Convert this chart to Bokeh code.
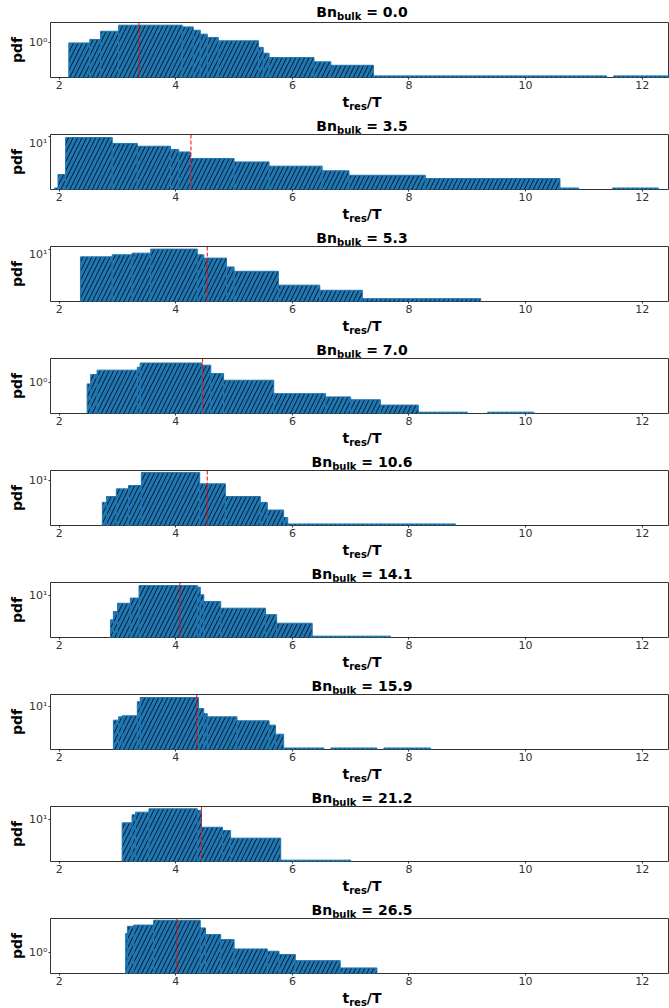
from bokeh.plotting import figure
from bokeh.models import (Range1d, FixedTicker, CustomJSTickFormatter, Span, Div,
                          ColumnDataSource)
from bokeh.layouts import column
from bokeh.embed import file_html
from bokeh.resources import INLINE
import numpy as np

# ---------------- data ----------------
BN_BULK = [0.0, 3.5, 5.3, 7.0, 10.6, 14.1, 15.9, 21.2, 26.5]
MEAN_TRES = [3.37, 4.26, 4.54, 4.46, 4.54, 4.07, 4.36, 4.44, 4.02]
X_TICKS = [2, 4, 6, 8, 10, 12]
Y_TICKS = [[1], [10], [10], [1], [10], [10], [10], [10], [1]]

EDGES_BN00 = [2.165, 2.525, 2.71, 3.02, 4.11, 4.30, 4.42, 4.54, 4.73, 5.42, 5.50,
              5.60, 6.37, 6.66, 7.39, 11.39, 11.51, 12.50]
PDF_BN00 = [0.98, 1.15, 1.68, 2.22, 2.05, 1.76, 1.47, 1.26, 1.08, 0.80, 0.61,
            0.50, 0.41, 0.35, 0.215, 0, 0.215]

EDGES_BN35 = [1.92, 1.98, 2.11, 2.91, 3.34, 3.91, 4.05, 4.25, 5.00, 5.60, 6.51,
              6.97, 8.28, 10.59, 10.91, 11.49, 12.28]
PDF_BN35 = [0.95, 1.77, 9.7, 7.4, 6.5, 5.6, 5.0, 3.7, 3.16, 2.6, 2.1,
            1.71, 1.47, 0.95, 0, 0.95]

EDGES_BN53 = [2.365, 2.91, 3.25, 3.57, 4.37, 4.48, 4.87, 5.00, 5.76, 6.47, 7.20, 9.23]
PDF_BN53 = [7.0, 7.7, 8.3, 10.0, 7.7, 6.6, 4.4, 3.6, 1.9, 1.5, 1.02]

EDGES_BN70 = [2.48, 2.54, 2.65, 3.34, 3.39, 4.45, 4.60, 4.82, 5.68, 6.57, 7.00,
              7.51, 8.16, 9.00, 9.35, 10.14]
PDF_BN70 = [0.955, 1.47, 1.8, 2.06, 2.5, 2.26, 1.54, 1.13, 0.61, 0.525, 0.46,
            0.36, 0.26, 0, 0.26]

EDGES_BN106 = [2.74, 2.81, 2.98, 3.19, 3.41, 4.41, 4.85, 5.45, 5.57, 5.85, 5.92, 8.80]
PDF_BN106 = [3.7, 4.85, 6.9, 8.05, 14.7, 8.7, 4.85, 3.7, 2.6, 1.85, 1.37]

EDGES_BN141 = [2.88, 2.93, 3.00, 3.22, 3.37, 4.37, 4.42, 4.48, 4.77, 5.54, 5.73, 6.34, 7.68]
PDF_BN141 = [3.3, 4.85, 7.1, 9.0, 16.0, 14.9, 10.5, 7.7, 5.65, 4.2, 2.83, 1.56]

EDGES_BN159 = [2.93, 3.02, 3.08, 3.34, 3.39, 4.39, 4.48, 4.54, 5.05, 5.60, 5.71,
               5.85, 6.54, 6.66, 7.45, 7.57, 8.37]
PDF_BN159 = [5.4, 6.3, 6.6, 12.6, 15.3, 9.2, 7.3, 6.3, 5.25, 4.3, 2.83,
             1.5, 0, 1.5, 0, 1.5]

EDGES_BN212 = [3.08, 3.25, 3.31, 3.54, 4.37, 4.44, 4.80, 4.94, 5.80, 7.00]
PDF_BN212 = [8.7, 12.6, 14.2, 16.6, 15.3, 7.1, 6.1, 4.3, 1.56]

EDGES_BN265 = [3.14, 3.17, 3.28, 3.62, 4.42, 4.51, 4.77, 5.00, 5.57, 5.77, 6.05, 6.82, 7.45]
PDF_BN265 = [2.44, 3.4, 3.6, 4.5, 3.16, 2.33, 1.85, 1.2, 1.08, 0.93, 0.70, 0.50]

EDGES = [EDGES_BN00, EDGES_BN35, EDGES_BN53, EDGES_BN70, EDGES_BN106,
         EDGES_BN141, EDGES_BN159, EDGES_BN212, EDGES_BN265]
PDFS = [PDF_BN00, PDF_BN35, PDF_BN53, PDF_BN70, PDF_BN106,
        PDF_BN141, PDF_BN159, PDF_BN212, PDF_BN265]

# log10 of the y-limits of each panel (layout)
Y_LIM_LOG = [(-0.70, 0.40), (-0.052, 1.048), (-0.048, 1.052), (-0.612, 0.488),
             (0.106, 1.206), (0.166, 1.266), (0.146, 1.246), (0.166, 1.266),
             (-0.412, 0.688)]

# ---------------- layout / style ----------------
W = 669
LEFT = 50
FONT = "DejaVu Sans"
BAR = "#1f77b4"
FIG_H = 74           # 1 top + 55 frame + 18 bottom
XL_H = 24
TITLE_H = 14

sup_js = """
const e = Math.round(Math.log10(tick));
const sup = {"-1": "\u207b\u00b9", "0": "\u2070", "1": "\u00b9", "2": "\u00b2"};
return "10" + sup[String(e)];
"""

TXT = ("margin-left:55px;width:614px;text-align:center;"
       "font-family:'DejaVu Sans';font-weight:bold;font-size:14px;line-height:0;"
       "color:#000;white-space:nowrap;")
SUB = "font-size:10px;line-height:0;vertical-align:-3px;"


def title_div(bn, h, pad):
    html = (f'<div style="{TXT}padding-top:{pad}px;">'
            f'Bn<sub style="{SUB}">bulk</sub> = {bn:.1f}</div>')
    return Div(text=html, width=W, height=h, margin=0)


def xlabel_div(h):
    html = (f'<div style="{TXT}padding-top:6px;">'
            f't<sub style="{SUB}">res</sub>/T</div>')
    return Div(text=html, width=W, height=h, margin=0)


children = []
n = len(BN_BULK)
x_end = 1.851 + (W - LEFT) / 58.3
for i in range(n):
    children.append(title_div(BN_BULK[i], 21 if i == 0 else TITLE_H, 12 if i == 0 else 5))

    lo, hi = Y_LIM_LOG[i]
    p = figure(width=W, height=FIG_H,
               x_range=Range1d(1.851, x_end),
               y_range=Range1d(10 ** lo, 10 ** hi),
               y_axis_type="log", output_backend="svg", toolbar_location=None,
               min_border_left=LEFT, min_border_right=0, min_border_top=1,
               min_border_bottom=18)
    p.background_fill_color = "white"
    p.border_fill_color = "white"
    p.grid.visible = False
    p.outline_line_color = "#333333"
    p.outline_line_width = 1

    e = np.array(EDGES[i], dtype=float)
    h = np.array(PDFS[i], dtype=float)
    mask = h > 0
    src = ColumnDataSource(dict(left=e[:-1][mask], right=e[1:][mask], top=h[mask]))
    p.quad(left="left", right="right", top="top", bottom=1e-3, source=src,
           fill_color=BAR, line_color=BAR, line_width=1,
           hatch_pattern="/", hatch_color="black", hatch_weight=1,
           hatch_scale=9, hatch_alpha=0.8)

    p.add_layout(Span(location=MEAN_TRES[i], dimension="height", line_color="red",
                      line_width=1, line_dash="4 2"))

    for ax in (p.xaxis[0], p.yaxis[0]):
        ax.axis_line_color = None
        ax.major_tick_line_color = "#333333"
        ax.major_tick_in = 0
        ax.major_tick_out = 2
        ax.minor_tick_line_color = None
        ax.major_label_text_font = FONT
        ax.major_label_text_font_size = "11px"
        ax.major_label_text_color = "#333333"
        ax.major_label_standoff = 1
    p.xaxis.ticker = FixedTicker(ticks=X_TICKS)
    p.yaxis.ticker = FixedTicker(ticks=Y_TICKS[i])
    p.yaxis.formatter = CustomJSTickFormatter(code=sup_js)
    p.yaxis.axis_label = "pdf"
    p.yaxis.axis_label_text_font = FONT
    p.yaxis.axis_label_text_font_style = "bold"
    p.yaxis.axis_label_text_font_size = "14px"
    p.yaxis.axis_label_text_color = "black"
    p.yaxis.axis_label_standoff = 1
    children.append(p)

    children.append(xlabel_div(XL_H if i < n - 1 else 17))

layout = column(children, spacing=0)
open("out.html", "w").write(file_html(layout, INLINE, title="tres pdf"))
